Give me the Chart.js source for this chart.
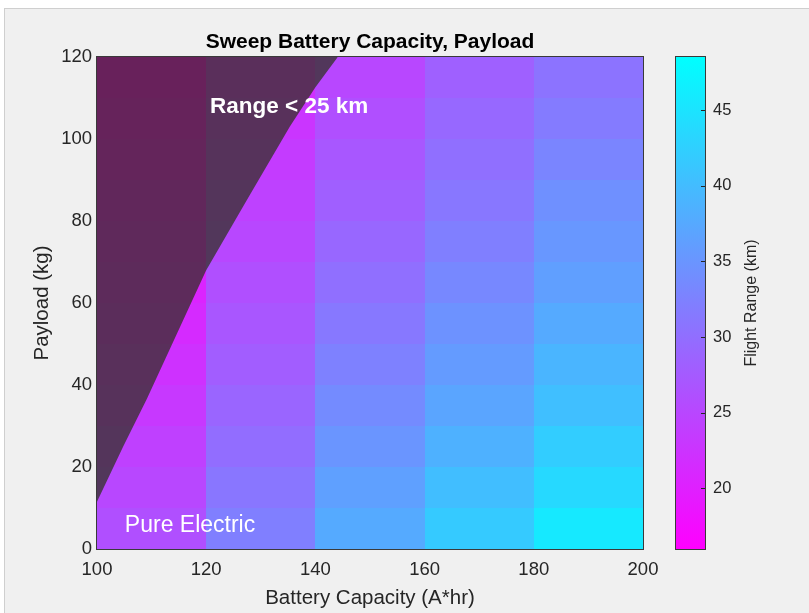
<!DOCTYPE html>
<html>
<head>
<meta charset="utf-8">
<script src="https://cdn.jsdelivr.net/npm/chart.js@4.4.0/dist/chart.umd.min.js"></script>
<style>
  html, body { margin: 0; padding: 0; background: #ffffff; width: 809px; height: 613px; overflow: hidden; }
  #frame { position: absolute; left: 4px; top: 8px; width: 805px; height: 605px; background: #f0f0f0;
           border-top: 1px solid #cfcfcf; border-left: 1px solid #cfcfcf; }
  canvas { position: absolute; left: 0; top: 0; }
</style>
</head>
<body>
<div id="frame"></div>
<canvas id="sweep" width="809" height="613"></canvas>
<script>
// Grid cell edges of the sweep
const capacityEdges = [100, 120, 140, 160, 180, 200];           // A*hr
const payloadEdges  = [0, 10, 20, 30, 40, 50, 60, 70, 80, 90, 100, 110, 120]; // kg

// Flight range (km) per battery capacity, payload ascending 0..110 kg
const range100 = [26.1, 25.1, 24.1, 23.2, 22.3, 21.4, 20.6, 19.8, 19.0, 18.2, 17.4, 16.7];
const range120 = [32.2, 31.0, 29.9, 28.9, 27.9, 26.9, 26.1, 25.1, 24.3, 23.5, 22.8, 22.0];
const range140 = [37.7, 36.4, 35.0, 33.7, 32.5, 31.3, 30.2, 29.1, 28.1, 27.1, 26.1, 25.1];
const range160 = [41.8, 40.2, 38.5, 37.0, 35.7, 34.6, 33.3, 32.2, 31.2, 30.2, 29.2, 28.2];
const range180 = [45.7, 43.6, 42.1, 40.4, 39.1, 37.7, 36.3, 35.3, 34.3, 32.9, 31.7, 30.7];
const rangeByCapacity = [range100, range120, range140, range160, range180];

// 25 km range contour (capacity, payload)
const boundaryCapacity = [100, 104.8, 109.1, 120, 127.4, 135.3, 140, 144.1];
const boundaryPayload  = [11.5, 25, 36.5, 68, 85, 103, 112.6, 120];

// Tick labels
const xTicks  = [100, 120, 140, 160, 180, 200];
const yTicks  = [0, 20, 40, 60, 80, 100, 120];
const cbTicks = [20, 25, 30, 35, 40, 45];
const cbMin = 16, cbMax = 48.5;

const FONT = "'Liberation Sans', Arial, Helvetica, sans-serif";
const INK = '#262626';

// flipped "cool" colormap: magenta (low) -> cyan (high)
function coolColor(v) {
  let f = (v - cbMin) / (cbMax - cbMin);
  f = Math.max(0, Math.min(1, f));
  return 'rgb(' + Math.round(255 * (1 - f)) + ',' + Math.round(255 * f) + ',255)';
}

// keep scale boxes at fixed sizes with no extra edge padding
function fixBox(size, horizontal) {
  return s => {
    if (horizontal) { s.height = size; s.paddingLeft = 0; s.paddingRight = 0; }
    else { s.width = size; s.paddingTop = 0; s.paddingBottom = 0; }
  };
}

const heatmapPlugin = {
  id: 'heatmap',
  beforeDatasetsDraw(chart) {
    const { ctx, scales: { x, y } } = chart;
    ctx.save();
    rangeByCapacity.forEach((col, i) => {
      const x0 = Math.round(x.getPixelForValue(capacityEdges[i]));
      const x1 = Math.round(x.getPixelForValue(capacityEdges[i + 1]));
      col.forEach((v, j) => {
        const y0 = Math.round(y.getPixelForValue(payloadEdges[j]));
        const y1 = Math.round(y.getPixelForValue(payloadEdges[j + 1]));
        ctx.fillStyle = coolColor(v);
        ctx.fillRect(x0, y1, x1 - x0, y0 - y1);
      });
    });
    ctx.restore();
  },
  afterDatasetsDraw(chart) {
    const { ctx, chartArea: a, scales: { x, y } } = chart;
    ctx.save();
    // region labels
    ctx.fillStyle = '#ffffff';
    ctx.textBaseline = 'middle';
    ctx.textAlign = 'left';
    ctx.font = 'bold 22.5px ' + FONT;
    ctx.fillText('Range < 25 km', x.getPixelForValue(120.7), y.getPixelForValue(107.8));
    ctx.font = '23px ' + FONT;
    ctx.fillText('Pure Electric', x.getPixelForValue(105.1), y.getPixelForValue(5.6));
    // axes box
    ctx.strokeStyle = '#3a3a3a';
    ctx.lineWidth = 1;
    ctx.strokeRect(Math.round(a.left) - 0.5, Math.round(a.top) - 0.5,
                   Math.round(a.right - a.left) + 1, Math.round(a.bottom - a.top) + 1);
    ctx.restore();
  },
  afterDraw(chart) {
    const { ctx, chartArea: a, scales: { cb } } = chart;
    ctx.save();
    // title
    ctx.fillStyle = '#000000';
    ctx.font = 'bold 21px ' + FONT;
    ctx.textAlign = 'center';
    ctx.textBaseline = 'middle';
    ctx.fillText('Sweep Battery Capacity, Payload', (a.left + a.right) / 2, a.top - 15);
    // colorbar
    const bx0 = a.right + 33, bx1 = a.right + 62;
    const yb = cb.getPixelForValue(cbMin), yt = cb.getPixelForValue(cbMax);
    const grad = ctx.createLinearGradient(0, yb, 0, yt);
    grad.addColorStop(0, coolColor(cbMin));
    grad.addColorStop(1, coolColor(cbMax));
    ctx.fillStyle = grad;
    ctx.fillRect(bx0, yt, bx1 - bx0, yb - yt);
    ctx.strokeStyle = '#3a3a3a';
    ctx.lineWidth = 1;
    ctx.strokeRect(bx0 - 0.5, Math.round(yt) - 0.5, bx1 - bx0 + 1, Math.round(yb - yt) + 1);
    ctx.strokeStyle = INK;
    cbTicks.forEach(t => {
      const py = Math.round(cb.getPixelForValue(t)) + 0.5;
      ctx.beginPath();
      ctx.moveTo(bx1 - 4, py);
      ctx.lineTo(bx1, py);
      ctx.stroke();
    });
    // colorbar label
    ctx.fillStyle = INK;
    ctx.font = '16px ' + FONT;
    ctx.translate(a.right + 109, (a.top + a.bottom) / 2);
    ctx.rotate(-Math.PI / 2);
    ctx.fillText('Flight Range (km)', 0, 0);
    ctx.restore();
  }
};

new Chart(document.getElementById('sweep'), {
  type: 'scatter',
  data: {
    datasets: [{
      label: 'Range < 25 km',
      data: boundaryCapacity.map((c, i) => ({ x: c, y: boundaryPayload[i] })),
      showLine: true,
      borderWidth: 0,
      pointRadius: 0,
      fill: { value: 120 },
      backgroundColor: 'rgba(31, 47, 10, 0.67)',
      borderColor: 'rgba(0,0,0,0)'
    }]
  },
  options: {
    responsive: false,
    animation: false,
    events: [],
    layout: { padding: { top: 57, right: 0, bottom: 0, left: 0 } },
    plugins: { legend: { display: false }, tooltip: { enabled: false }, title: { display: false } },
    scales: {
      x: {
        type: 'linear', position: 'bottom', min: 100, max: 200,
        grid: { display: false, drawTicks: false }, border: { display: false },
        afterBuildTicks: s => { s.ticks = xTicks.map(v => ({ value: v })); },
        afterFit: fixBox(64, true),
        ticks: { color: INK, font: { family: FONT, size: 18.5 }, padding: 10, maxRotation: 0 },
        title: { display: true, text: 'Battery Capacity (A*hr)', color: INK,
                 font: { family: FONT, size: 20.5 }, padding: { top: 0, bottom: 2 } }
      },
      y: {
        type: 'linear', position: 'left', min: 0, max: 120,
        grid: { display: false, drawTicks: false }, border: { display: false },
        afterBuildTicks: s => { s.ticks = yTicks.map(v => ({ value: v })); },
        afterFit: fixBox(97, false),
        ticks: { color: INK, font: { family: FONT, size: 18.5 }, padding: 5 },
        title: { display: true, text: 'Payload (kg)', color: INK,
                 font: { family: FONT, size: 20.5 }, padding: { top: 30, bottom: 0 } }
      },
      cb: {
        type: 'linear', position: 'right', axis: 'y', min: cbMin, max: cbMax,
        grid: { display: false, drawTicks: false }, border: { display: false },
        afterBuildTicks: s => { s.ticks = cbTicks.map(v => ({ value: v })); },
        afterFit: fixBox(166, false),
        ticks: { color: INK, font: { family: FONT, size: 16.5 }, padding: 70 }
      }
    }
  },
  plugins: [heatmapPlugin]
});
</script>
</body>
</html>
